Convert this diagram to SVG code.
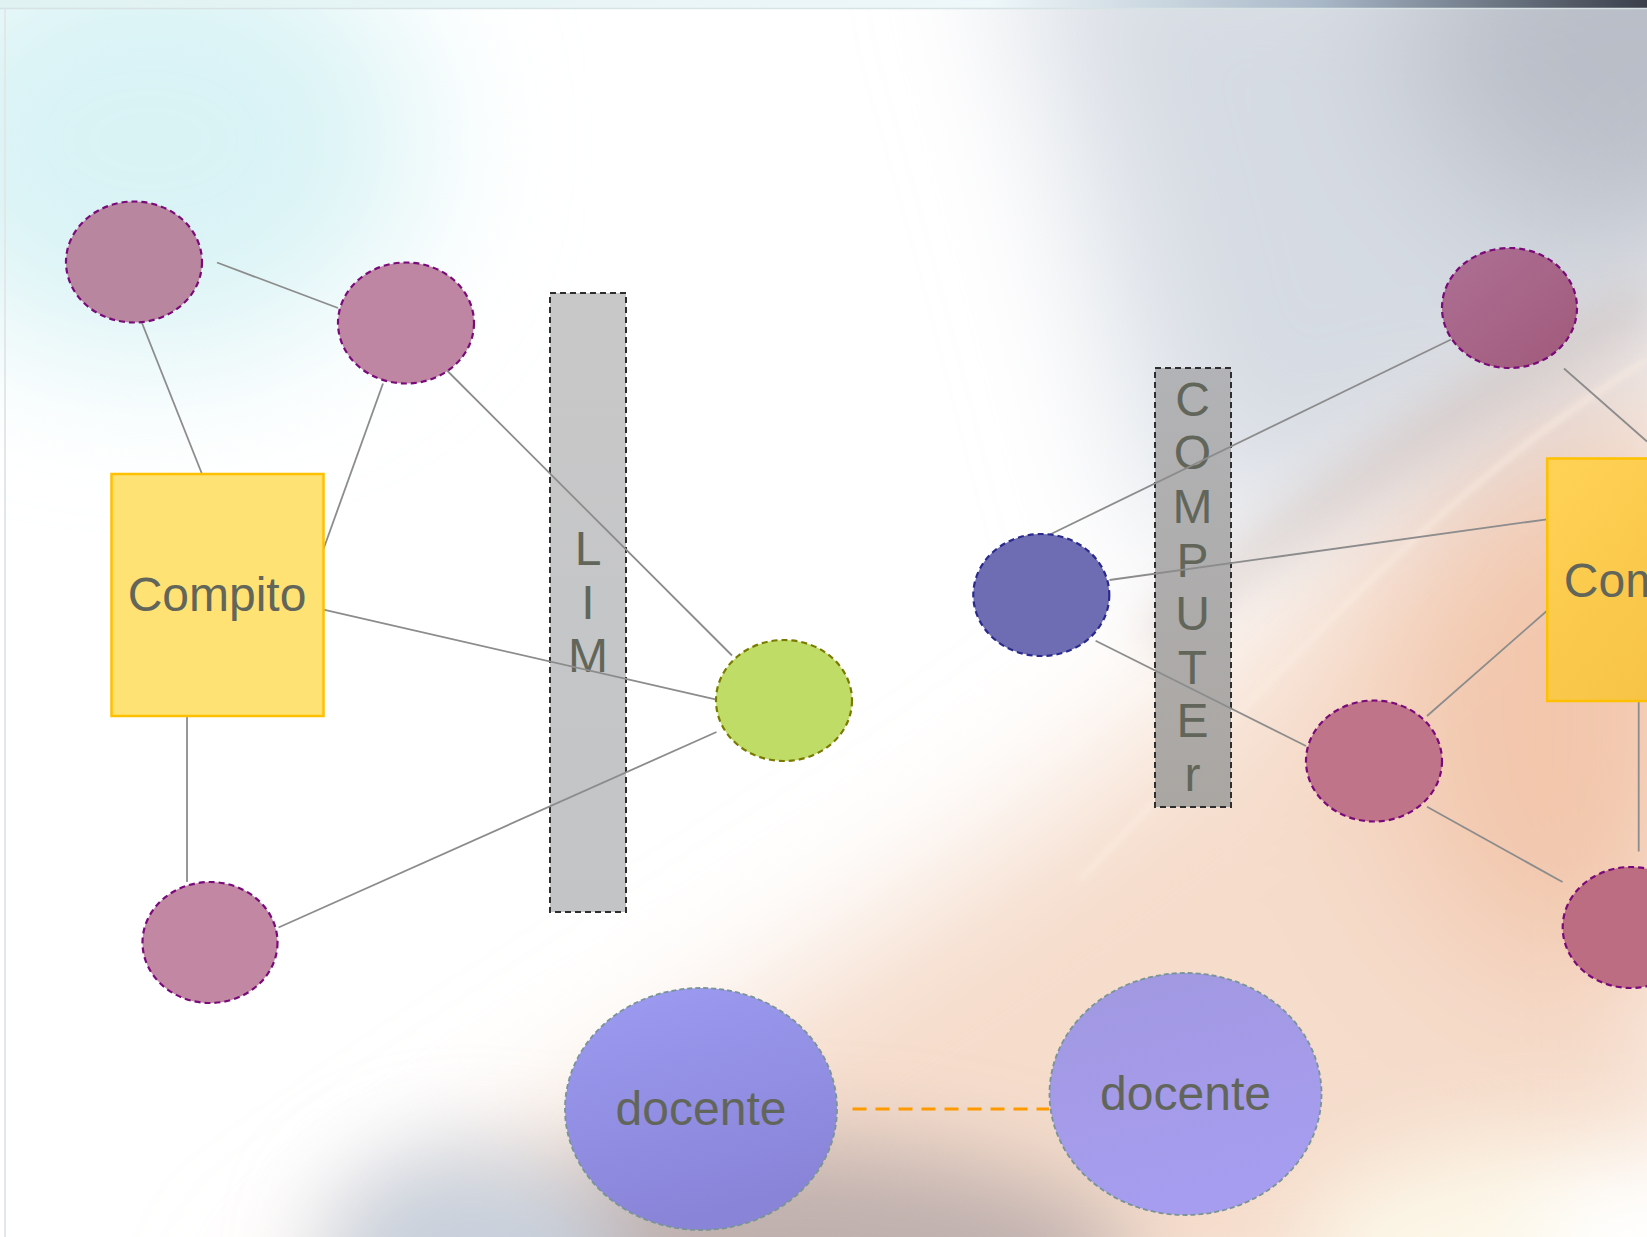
<svg xmlns="http://www.w3.org/2000/svg" width="1647" height="1237" viewBox="0 0 1647 1237">
<style>
.lbl{font-family:"Liberation Sans",Arial,sans-serif;font-size:48px;fill:#62665a;text-anchor:middle}
.conn line{stroke:#8c8c8c;stroke-width:1.8;fill:none}
.pn{stroke:#7a0a7a;stroke-width:2.2;stroke-dasharray:6 4}
.bar{stroke:#2e2e2e;stroke-width:2;stroke-dasharray:6 4}
.box{stroke:#ffc000;stroke-width:2.5}
.doc{stroke:#789494;stroke-width:1.8;stroke-dasharray:5 3}
</style>
<defs>
<filter id="b80" x="-50%" y="-50%" width="200%" height="200%"><feGaussianBlur stdDeviation="75"/></filter>
<filter id="b50" x="-50%" y="-50%" width="200%" height="200%"><feGaussianBlur stdDeviation="45"/></filter>
<filter id="b20" x="-50%" y="-50%" width="200%" height="200%"><feGaussianBlur stdDeviation="20"/></filter>
<filter id="b3" x="-50%" y="-50%" width="200%" height="200%"><feGaussianBlur stdDeviation="3"/></filter>
<clipPath id="cv"><rect width="1647" height="1237"/></clipPath>
<linearGradient id="topband" x1="0" y1="0" x2="1" y2="0">
<stop offset="0" stop-color="#e0f2f2"/><stop offset="0.6" stop-color="#eef7f9"/><stop offset="0.8" stop-color="#a9b8c8"/><stop offset="1" stop-color="#3a3f4a"/>
</linearGradient>
<linearGradient id="docL" x1="0" y1="0" x2="0.3" y2="1"><stop offset="0" stop-color="#9c9cf2"/><stop offset="1" stop-color="#8984d8"/></linearGradient>
<linearGradient id="docR" x1="0" y1="0" x2="0.3" y2="1"><stop offset="0" stop-color="#a198e0"/><stop offset="1" stop-color="#a79df0"/></linearGradient>
<linearGradient id="boxR" x1="0" y1="0" x2="1" y2="1"><stop offset="0" stop-color="#ffd255"/><stop offset="1" stop-color="#f4be40"/></linearGradient>
<linearGradient id="tr" x1="0" y1="0" x2="1" y2="1"><stop offset="0" stop-color="#ad7095"/><stop offset="1" stop-color="#a15a7a"/></linearGradient>
<linearGradient id="pcLim" x1="0" y1="0" x2="0" y2="1"><stop offset="0" stop-color="#c8c8c8"/><stop offset="1" stop-color="#c2c4c6"/></linearGradient>
<linearGradient id="pcCmp" x1="0" y1="0" x2="0" y2="1"><stop offset="0" stop-color="#b2b3b6"/><stop offset="1" stop-color="#aaa6a2"/></linearGradient>
</defs>

<g id="background" clip-path="url(#cv)">
<rect width="1647" height="1237" fill="#ffffff"/>
<g filter="url(#b80)">
<ellipse cx="150" cy="140" rx="270" ry="220" fill="#d9f3f5"/>
<path d="M1000 -100 C1080 150 1130 380 1180 560 L1700 360 L1700 -100 Z" fill="#d6dbe3"/>
<ellipse cx="1647" cy="40" rx="240" ry="200" fill="#b9bec7"/>
<path d="M250 1350 C600 1080 980 900 1250 650 C1400 510 1550 400 1700 330 L1700 1350 Z" fill="#f5dccb"/>
<ellipse cx="1570" cy="720" rx="180" ry="260" fill="#f1bc9c" opacity="0.7"/>
</g>
<g filter="url(#b50)">
<ellipse cx="770" cy="1265" rx="360" ry="120" fill="#bfb0ae"/>
<ellipse cx="470" cy="1260" rx="150" ry="110" fill="#c8d0dc"/>
<ellipse cx="1560" cy="1250" rx="260" ry="110" fill="#fcf7e8"/>
<ellipse cx="1660" cy="1237" rx="120" ry="80" fill="#ffffff"/>
</g>
<path d="M1150 640 C1300 520 1420 420 1647 300" stroke="#c0aca4" stroke-width="40" fill="none" opacity="0.3" filter="url(#b20)"/>
<path d="M1080 880 C1290 660 1450 480 1647 360" stroke="#fbeee2" stroke-width="5" fill="none" opacity="0.7" filter="url(#b3)"/>
<rect x="0" y="0" width="1647" height="8" fill="url(#topband)"/>
<line x1="0" y1="8.5" x2="1647" y2="8.5" stroke="#d6e2e4" stroke-width="1.5"/>
<line x1="5" y1="9" x2="5" y2="1237" stroke="#e2e8e8" stroke-width="2"/>
</g>

<g id="lim">
<rect class="bar" x="550" y="293" width="76" height="619" fill="url(#pcLim)"/>
<text class="lbl" x="588" y="565">L</text>
<text class="lbl" x="588" y="618.5">I</text>
<text class="lbl" x="588" y="672">M</text>
</g>

<g id="computer">
<rect class="bar" x="1155" y="368" width="76" height="439" fill="url(#pcCmp)"/>
<text class="lbl" x="1192.5" y="415.7">C</text>
<text class="lbl" x="1192.5" y="469.3">O</text>
<text class="lbl" x="1192.5" y="522.9">M</text>
<text class="lbl" x="1192.5" y="576.5">P</text>
<text class="lbl" x="1192.5" y="630.1">U</text>
<text class="lbl" x="1192.5" y="683.7">T</text>
<text class="lbl" x="1192.5" y="737.3">E</text>
<text class="lbl" x="1192.5" y="790.9">r</text>
</g>

<g id="connectors" class="conn">
<line x1="217" y1="262.5" x2="338" y2="308"/>
<line x1="142" y1="323" x2="202" y2="474"/>
<line x1="383" y1="383.5" x2="323.5" y2="549"/>
<line x1="446" y1="369.5" x2="732" y2="655.5"/>
<line x1="323.5" y1="609.7" x2="716.5" y2="699.6"/>
<line x1="187" y1="716" x2="187" y2="882"/>
<line x1="278.5" y1="927.5" x2="716.5" y2="732"/>
<line x1="1049.5" y1="534.7" x2="1451" y2="339.5"/>
<line x1="1109.5" y1="580" x2="1547" y2="519.3"/>
<line x1="1095.6" y1="640.7" x2="1306" y2="746"/>
<line x1="1427" y1="716" x2="1547" y2="610.7"/>
<line x1="1427" y1="806.7" x2="1562.5" y2="882"/>
<line x1="1564" y1="368.5" x2="1647" y2="441.5"/>
<line x1="1638.7" y1="701" x2="1638.7" y2="851.5"/>
<line x1="852.5" y1="1109" x2="1049" y2="1109" style="stroke:#ff9900;stroke-width:3;stroke-dasharray:14 9"/>
</g>

<g id="node-a"><ellipse class="pn" cx="134" cy="262" rx="68" ry="60.5" fill="#b8869f"/></g>
<g id="node-b"><ellipse class="pn" cx="406" cy="323" rx="68" ry="60.5" fill="#bf86a3"/></g>
<g id="node-compito-left">
<rect class="box" x="111.5" y="474" width="212" height="242" fill="#ffe174"/>
<text class="lbl" x="217" y="610.7">Compito</text>
</g>
<g id="node-green"><ellipse cx="784" cy="700.5" rx="68" ry="60.5" fill="#bfdd66" stroke="#7a7a00" stroke-width="2.2" stroke-dasharray="6 4"/></g>
<g id="node-c"><ellipse class="pn" cx="210" cy="942.5" rx="67.5" ry="60.5" fill="#c287a3"/></g>
<g id="node-blue"><ellipse cx="1041.3" cy="595" rx="68" ry="61" fill="#6e6db3" stroke="#2a2a8c" stroke-width="2.2" stroke-dasharray="6 4"/></g>
<g id="node-d"><ellipse class="pn" cx="1509.5" cy="308" rx="67.5" ry="60" fill="url(#tr)"/></g>
<g id="node-e"><ellipse class="pn" cx="1374" cy="761" rx="68" ry="60.5" fill="#bf7489"/></g>
<g id="node-f"><ellipse class="pn" cx="1630.7" cy="927.5" rx="68" ry="60.5" fill="#bd6d82"/></g>
<g id="node-compito-right">
<rect class="box" x="1547.2" y="458.5" width="212" height="242.5" fill="url(#boxR)"/>
<text class="lbl" x="1653.2" y="596.5">Compito</text>
</g>
<g id="node-docente-left">
<ellipse class="doc" cx="701" cy="1109" rx="136" ry="121" fill="url(#docL)"/>
<text class="lbl" x="701" y="1125">docente</text>
</g>
<g id="node-docente-right">
<ellipse class="doc" cx="1185.5" cy="1094" rx="136" ry="121" fill="url(#docR)"/>
<text class="lbl" x="1185.5" y="1110">docente</text>
</g>
</svg>
